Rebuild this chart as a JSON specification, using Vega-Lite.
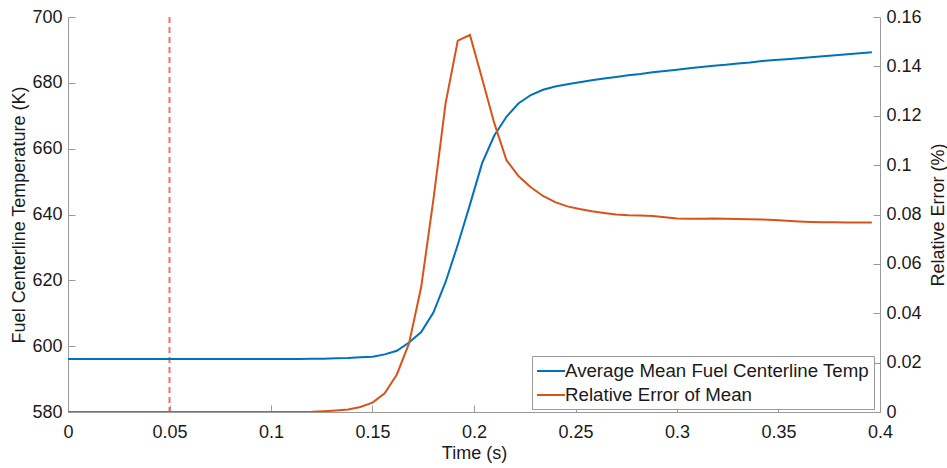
{
  "$schema": "https://vega.github.io/schema/vega-lite/v6.json",
  "width": 812,
  "height": 395,
  "autosize": "none",
  "padding": {"left": 68, "top": 17, "right": 67, "bottom": 56},
  "background": "white",
  "config": {
    "view": {"stroke": null},
    "font": "Liberation Sans",
    "axis": {
      "grid": false,
      "domainColor": "#9a9a9a",
      "tickColor": "#9a9a9a",
      "tickSize": -7,
      "labelColor": "#1a1a1a",
      "titleColor": "#1a1a1a",
      "labelFont": "Liberation Sans",
      "titleFont": "Liberation Sans",
      "labelFontSize": 18,
      "titleFontSize": 18,
      "titleFontWeight": "normal"
    }
  },
  "datasets": {
    "curves": [
      {"t": 0.0, "temp": 596.1, "err": 0},
      {"t": 0.006, "temp": 596.1, "err": 0},
      {"t": 0.012, "temp": 596.1, "err": 0},
      {"t": 0.018, "temp": 596.1, "err": 0},
      {"t": 0.024, "temp": 596.1, "err": 0},
      {"t": 0.03, "temp": 596.1, "err": 0},
      {"t": 0.036, "temp": 596.1, "err": 0},
      {"t": 0.042, "temp": 596.1, "err": 0},
      {"t": 0.048, "temp": 596.1, "err": 0},
      {"t": 0.054, "temp": 596.1, "err": 0},
      {"t": 0.06, "temp": 596.1, "err": 0},
      {"t": 0.066, "temp": 596.1, "err": 0},
      {"t": 0.072, "temp": 596.1, "err": 0},
      {"t": 0.078, "temp": 596.1, "err": 0},
      {"t": 0.084, "temp": 596.1, "err": 0},
      {"t": 0.09, "temp": 596.1, "err": 0},
      {"t": 0.096, "temp": 596.1, "err": 0},
      {"t": 0.102, "temp": 596.1, "err": 0},
      {"t": 0.108, "temp": 596.1, "err": 0},
      {"t": 0.114, "temp": 596.1, "err": 0.00005},
      {"t": 0.12, "temp": 596.15, "err": 0.0001},
      {"t": 0.126, "temp": 596.2, "err": 0.0003},
      {"t": 0.132, "temp": 596.3, "err": 0.0006},
      {"t": 0.138, "temp": 596.4, "err": 0.001},
      {"t": 0.144, "temp": 596.6, "err": 0.002},
      {"t": 0.15, "temp": 596.8, "err": 0.0038},
      {"t": 0.156, "temp": 597.5, "err": 0.0076},
      {"t": 0.162, "temp": 598.6, "err": 0.0152},
      {"t": 0.168, "temp": 601.1, "err": 0.0278},
      {"t": 0.174, "temp": 604.3, "err": 0.0507},
      {"t": 0.18, "temp": 610.2, "err": 0.086},
      {"t": 0.186, "temp": 619.5, "err": 0.125},
      {"t": 0.192, "temp": 630.8, "err": 0.1504},
      {"t": 0.198, "temp": 643.0, "err": 0.1527},
      {"t": 0.204, "temp": 655.6, "err": 0.135},
      {"t": 0.21, "temp": 664.0, "err": 0.117},
      {"t": 0.216, "temp": 669.7, "err": 0.102},
      {"t": 0.222, "temp": 673.8, "err": 0.0955},
      {"t": 0.228, "temp": 676.3, "err": 0.091},
      {"t": 0.234, "temp": 677.9, "err": 0.0875},
      {"t": 0.24, "temp": 678.9, "err": 0.085},
      {"t": 0.246, "temp": 679.6, "err": 0.0833},
      {"t": 0.252, "temp": 680.2, "err": 0.0822},
      {"t": 0.258, "temp": 680.8, "err": 0.0813},
      {"t": 0.264, "temp": 681.3, "err": 0.0806},
      {"t": 0.27, "temp": 681.8, "err": 0.08},
      {"t": 0.276, "temp": 682.3, "err": 0.0797},
      {"t": 0.282, "temp": 682.7, "err": 0.0796},
      {"t": 0.288, "temp": 683.2, "err": 0.0794},
      {"t": 0.294, "temp": 683.6, "err": 0.0789},
      {"t": 0.3, "temp": 684.0, "err": 0.0784},
      {"t": 0.306, "temp": 684.4, "err": 0.0783},
      {"t": 0.312, "temp": 684.8, "err": 0.0783},
      {"t": 0.318, "temp": 685.2, "err": 0.0784},
      {"t": 0.324, "temp": 685.5, "err": 0.0783},
      {"t": 0.33, "temp": 685.9, "err": 0.0782},
      {"t": 0.336, "temp": 686.2, "err": 0.0781},
      {"t": 0.342, "temp": 686.6, "err": 0.078},
      {"t": 0.348, "temp": 686.9, "err": 0.0778},
      {"t": 0.354, "temp": 687.2, "err": 0.0775},
      {"t": 0.36, "temp": 687.5, "err": 0.0772},
      {"t": 0.366, "temp": 687.8, "err": 0.077},
      {"t": 0.372, "temp": 688.1, "err": 0.0769},
      {"t": 0.378, "temp": 688.4, "err": 0.0769},
      {"t": 0.384, "temp": 688.7, "err": 0.0768},
      {"t": 0.39, "temp": 689.0, "err": 0.0768},
      {"t": 0.396, "temp": 689.3, "err": 0.0768}
    ],
    "marker": [{"t": 0.05}]
  },
  "layer": [
    {
      "data": {"name": "marker"},
      "mark": {"type": "rule", "color": "#ff6b6b", "strokeWidth": 2, "strokeDash": [6, 4]},
      "encoding": {
        "x": {"field": "t", "type": "quantitative"}
      }
    },
    {
      "data": {"name": "curves"},
      "mark": {"type": "line", "strokeWidth": 2, "clip": true},
      "encoding": {
        "x": {
          "field": "t", "type": "quantitative",
          "scale": {"domain": [0, 0.4], "nice": false},
          "axis": {"title": "Time (s)", "values": [0, 0.05, 0.1, 0.15, 0.2, 0.25, 0.3, 0.35, 0.4], "format": "~g", "labelPadding": 18, "titlePadding": 3, "labelFlush": false}
        },
        "y": {
          "field": "temp", "type": "quantitative",
          "scale": {"domain": [580, 700], "nice": false, "zero": false},
          "axis": {"title": "Fuel Centerline Temperature (K)", "orient": "left", "values": [580, 600, 620, 640, 660, 680, 700], "labelPadding": 13, "titlePadding": 3}
        },
        "color": {
          "datum": "Average Mean Fuel Centerline Temp",
          "type": "nominal",
          "scale": {"domain": ["Average Mean Fuel Centerline Temp", "Relative Error of Mean"], "range": ["#0072BD", "#D95319"]},
          "legend": {
            "title": null,
            "orient": "none",
            "legendX": 464,
            "legendY": 339,
            "direction": "vertical",
            "strokeColor": "#9a9a9a",
            "fillColor": "white",
            "padding": 4,
            "symbolType": "M-1,0H1.8",
            "symbolStrokeWidth": 2,
            "symbolSize": 400,
            "labelFont": "Liberation Sans",
            "labelFontSize": 18.7,
            "labelColor": "#1a1a1a",
            "labelOffset": 7,
            "labelLimit": 0,
            "rowPadding": 3
          }
        }
      }
    },
    {
      "data": {"name": "curves"},
      "mark": {"type": "line", "strokeWidth": 2, "clip": true},
      "encoding": {
        "x": {"field": "t", "type": "quantitative"},
        "y": {
          "field": "err", "type": "quantitative",
          "scale": {"domain": [0, 0.16], "nice": false},
          "axis": {"title": "Relative Error (%)", "orient": "right", "values": [0, 0.02, 0.04, 0.06, 0.08, 0.1, 0.12, 0.14, 0.16], "format": "~g", "labelPadding": 13, "titlePadding": 26, "titleAngle": 270}
        },
        "color": {"datum": "Relative Error of Mean", "type": "nominal"}
      }
    }
  ],
  "resolve": {"scale": {"y": "independent"}}
}
